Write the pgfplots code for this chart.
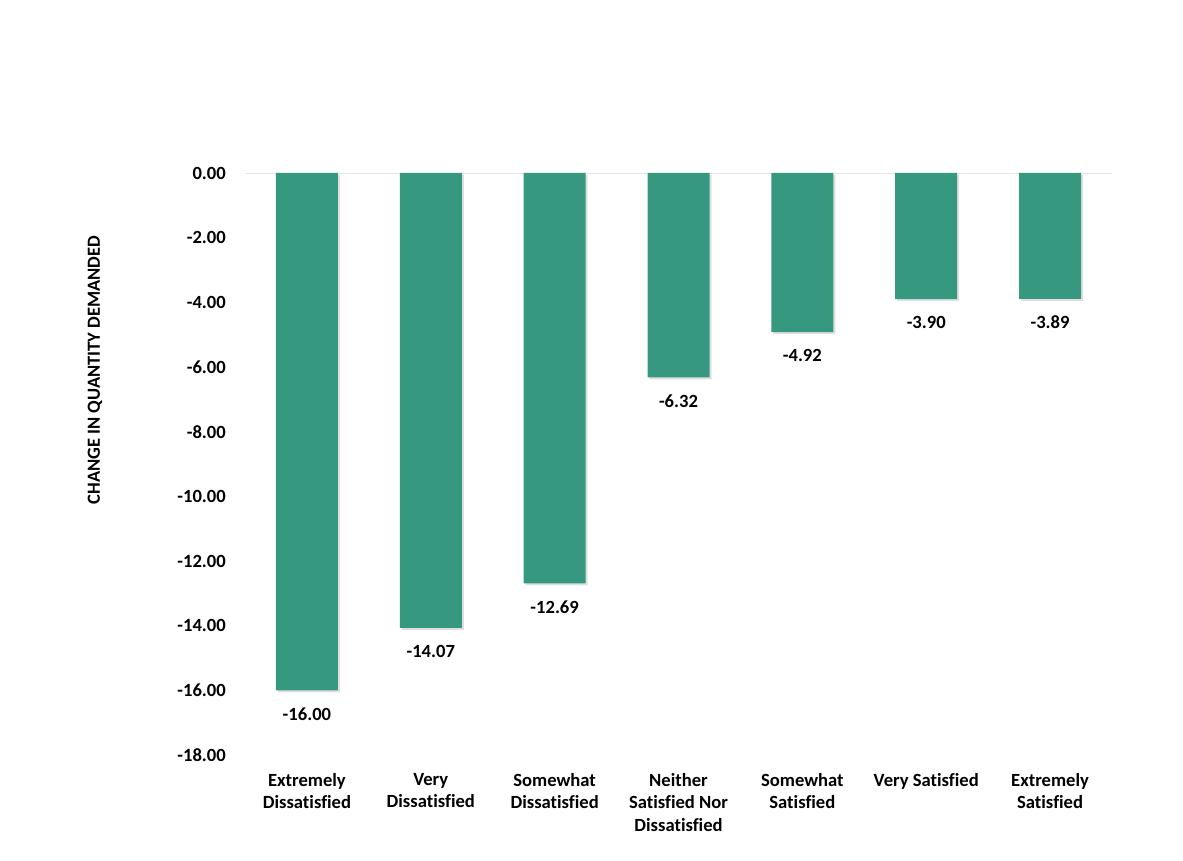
\documentclass[border=0pt]{standalone}
\usepackage{pgfplots}
\pgfplotsset{compat=1.18}
\usepackage{fontspec}
\setmainfont{Carlito}[Ligatures=NoCommon]
\usetikzlibrary{shadows}
\definecolor{barc}{RGB}{54,152,127}
\begin{document}
\begin{tikzpicture}
\path[use as bounding box] (0,0) rectangle (1183pt,861pt);
\begin{axis}[
  at={(245pt,106pt)}, anchor=south west,
  scale only axis, width=867pt, height=582pt,
  ybar, bar width=62pt,
  xmin=-0.5, xmax=6.5, ymin=-18, ymax=0,
  xtick={0,1,2,3,4,5,6},
  xticklabels={{Extremely\\Dissatisfied},{Very\\Dissatisfied},{Somewhat\\Dissatisfied},{Neither\\Satisfied Nor\\Dissatisfied},{Somewhat\\Satisfied},{Very Satisfied},{Extremely\\Satisfied}},
  ytick={0,-2,-4,-6,-8,-10,-12,-14,-16,-18},
  /pgf/number format/assume math mode=true,
  yticklabel={\pgfmathprintnumber[fixed,zerofill,precision=2]{\tick}},
  axis line style={draw=none},
  major tick length=0pt,
  tick label style={font=\fontsize{18.6}{22.5}\selectfont\bfseries, inner sep=0pt},
  yticklabel style={anchor=east, xshift=-19pt},
  xticklabel style={anchor=north, align=center, yshift=-18pt},
  extra y ticks={0}, extra y tick labels={},
  extra y tick style={grid=major, major grid style={draw=black!10, line width=0.8pt}},
  ylabel={CHANGE IN QUANTITY DEMANDED},
  ylabel style={at={(axis description cs:-0.173,0.6615)}, anchor=center, font=\fontsize{18.5}{20}\selectfont\bfseries},
  nodes near coords={\pgfmathprintnumber[fixed,zerofill,precision=2]{\pgfplotspointmeta}},
  every node near coord/.append style={font=\fontsize{18.6}{22}\selectfont\bfseries, inner sep=0pt, yshift=-17pt},
  clip=false,
]
\addplot[fill=barc, draw=none, drop shadow={shadow xshift=2pt, shadow yshift=-2pt, opacity=0.25}] coordinates {
 (0,-16.00) (1,-14.07) (2,-12.69) (3,-6.32) (4,-4.92) (5,-3.90) (6,-3.89)};
\end{axis}
\end{tikzpicture}
\end{document}
